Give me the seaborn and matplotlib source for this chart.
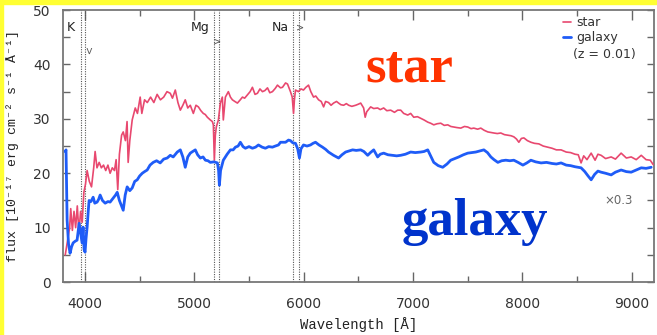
import numpy as np
import pandas as pd
import seaborn as sns
import matplotlib.pyplot as plt
from matplotlib.patches import Rectangle
from matplotlib.ticker import MultipleLocator

# star spectrum
star_wl = [3820, 3840, 3860, 3870, 3885, 3900, 3915, 3930, 3945, 3960, 3975, 3990, 4005, 4020,
           4040, 4060, 4080, 4093, 4110, 4130, 4150, 4170, 4190, 4210, 4230, 4250, 4270, 4285,
           4300, 4315, 4335, 4350, 4370, 4385, 4395, 4410, 4432, 4460, 4480, 4505, 4520, 4545,
           4570, 4600, 4630, 4660, 4690, 4720, 4750, 4780, 4800, 4826, 4850, 4872, 4895, 4917,
           4940, 4963, 4991, 5015, 5037, 5060, 5082, 5100, 5119, 5146, 5165, 5174, 5183, 5192,
           5201, 5220, 5238, 5256, 5265, 5284, 5311, 5330, 5348, 5370, 5394, 5420, 5440, 5460,
           5485, 5510, 5531, 5555, 5577, 5600, 5623, 5645, 5669, 5690, 5714, 5740, 5760, 5788,
           5806, 5834, 5852, 5879, 5895, 5907, 5915, 5925, 5952, 5975, 5998, 6020, 6044, 6065,
           6090, 6110, 6136, 6160, 6182, 6200, 6227, 6250, 6273, 6300, 6319, 6340, 6365, 6390,
           6411, 6440, 6475, 6500, 6521, 6548, 6562, 6576, 6612, 6640, 6676, 6700, 6731, 6760,
           6795, 6830, 6859, 6887, 6914, 6951, 6978, 7006, 7040, 7070, 7100, 7134, 7160, 7189,
           7220, 7253, 7285, 7317, 7345, 7372, 7400, 7436, 7470, 7500, 7530, 7555, 7590, 7619,
           7650, 7683, 7710, 7738, 7770, 7802, 7835, 7866, 7895, 7921, 7945, 7967, 7990, 8013,
           8045, 8077, 8110, 8150, 8190, 8230, 8270, 8310, 8353, 8400, 8440, 8480, 8510, 8536,
           8560, 8590, 8628, 8664, 8690, 8719, 8760, 8811, 8850, 8902, 8950, 8994, 9040, 9086,
           9130, 9168, 9195]
star_flux = [5.0, 7.5, 10, 13.5, 9.5, 13, 10, 14, 9, 13, 11, 16.5, 18, 20.5,
             18.5, 17.5, 21, 24, 21, 22, 21, 21.5, 20.5, 21.5, 20, 21, 20.5, 22.5,
             17, 23.5, 27, 27.6, 26, 29.5, 22, 26, 29.8, 32, 31, 34, 31, 33.5,
             33, 34, 33, 34.5, 33.5, 34, 35, 34.7, 33.8, 35.3, 33, 31.6, 32.5, 33.5,
             32, 32.5, 31, 32.5, 32.2, 31.5, 31, 30.8, 30.3, 29.8, 29.5, 28.9, 22.4, 27,
             28.5, 29.8, 32.9, 34, 29.8, 34, 35, 34, 33.5, 33.2, 32.9, 33.5, 34, 33.8,
             34.4, 35, 35.8, 34.5, 34.7, 35.5, 35, 35.2, 35.7, 34.8, 35, 35.6, 36.2, 35.7,
             35.8, 36.6, 36.4, 35, 34, 31, 33.5, 35.3, 35, 35.5, 35.3, 35.8, 36.2, 35,
             34, 34.2, 33.5, 33.2, 32.2, 33.2, 33, 32.5, 32.9, 33.2, 32.9, 32.6, 32.5, 32.8,
             32.5, 32.3, 32.5, 32.7, 32.9, 32, 30.3, 31.3, 32.2, 31.9, 32, 31.7, 32, 31.5,
             31.6, 31.2, 31.6, 31.6, 31, 30.7, 31, 30.3, 30.4, 30.1, 29.8, 29.4, 29.2, 28.9,
             29.1, 29.2, 28.8, 28.9, 28.6, 28.5, 28.4, 28.3, 28.6, 28.5, 28.2, 28.3, 28.1, 28.3,
             27.9, 27.6, 27.5, 27.4, 27.3, 27.4, 27.1, 27, 26.9, 26.7, 26.3, 25.7, 26.4, 26.5,
             26, 25.7, 25.5, 25.4, 25, 24.8, 24.6, 24.3, 24.3, 23.9, 23.8, 23.5, 23.4, 21.9,
             23.2, 22.5, 23.7, 22.4, 23.5, 23.3, 22.7, 23, 22.6, 23.7, 22.8, 23, 22.5, 23.3,
             22.5, 22.4, 21.6]

# galaxy spectrum (x0.3, z = 0.01)
gal_wl = [3820, 3827, 3832, 3837, 3850, 3864, 3878, 3892, 3910, 3928, 3947, 3960, 3974, 3983,
          3992, 4001, 4010, 4020, 4030, 4038, 4055, 4075, 4090, 4111, 4125, 4139, 4160, 4185,
          4210, 4230, 4260, 4280, 4295, 4315, 4335, 4350, 4368, 4386, 4410, 4432, 4455, 4478,
          4500, 4524, 4545, 4569, 4595, 4624, 4655, 4688, 4720, 4752, 4780, 4807, 4844, 4872,
          4895, 4917, 4940, 4963, 4985, 5009, 5030, 5055, 5080, 5101, 5125, 5146, 5180, 5211,
          5222, 5229, 5240, 5265, 5300, 5330, 5355, 5376, 5400, 5421, 5445, 5467, 5500, 5531,
          5560, 5586, 5620, 5650, 5680, 5714, 5740, 5769, 5788, 5834, 5861, 5879, 5900, 5925,
          5945, 5961, 5975, 5998, 6030, 6062, 6085, 6108, 6140, 6172, 6200, 6227, 6250, 6273,
          6300, 6319, 6350, 6383, 6415, 6447, 6480, 6521, 6550, 6585, 6610, 6640, 6660, 6676,
          6700, 6731, 6770, 6814, 6850, 6887, 6930, 6978, 7020, 7070, 7100, 7134, 7160, 7189,
          7230, 7271, 7310, 7344, 7380, 7418, 7460, 7500, 7540, 7573, 7610, 7647, 7680, 7711,
          7740, 7775, 7810, 7848, 7885, 7921, 7960, 8004, 8040, 8077, 8120, 8170, 8220, 8270,
          8310, 8353, 8400, 8440, 8480, 8536, 8570, 8600, 8628, 8660, 8690, 8719, 8760, 8811,
          8850, 8902, 8950, 8994, 9040, 9086, 9130, 9177]
gal_flux = [24, 24.3, 18, 11.4, 7, 5.3, 6.5, 7.2, 7.5, 7.7, 10.8, 9, 7.2, 10.1,
            6, 5.5, 8, 10.1, 13, 15, 14.8, 15.6, 14.5, 14.7, 15.2, 16, 15, 14.5,
            14.8, 14.7, 15.5, 16, 16.5, 15, 14, 13.2, 16, 17.5, 16.8, 17.3, 18.5, 18.8,
            19.5, 20, 20.3, 20.6, 21.5, 22, 22.3, 21.9, 22.6, 22.8, 23.3, 23, 23.9, 24.3,
            23, 21.1, 23, 23.7, 24, 24.3, 23.4, 22.8, 23, 22.4, 22.3, 22, 22.1, 21.9,
            20.5, 17.8, 20.5, 22.4, 23.5, 24.3, 24.3, 24.8, 25, 25.7, 24.9, 24.6, 24.9, 24.6,
            24.8, 25.2, 24.8, 24.6, 24.9, 24.8, 25, 25.2, 25.7, 25.7, 26.1, 26, 25.6, 25.5,
            24.5, 22.8, 24.5, 25.2, 25, 25.2, 25.5, 25.7, 25.2, 24.8, 24.4, 23.9, 23.6, 23.3,
            23, 22.8, 23.4, 23.9, 24.1, 24.3, 24.2, 24.3, 24, 23.3, 23.8, 24.3, 23.6, 23,
            23.5, 23.7, 23.4, 23.3, 23.2, 23.3, 23.5, 23.9, 23.8, 23.9, 24, 24.3, 23.2, 22,
            21.4, 21.1, 21.7, 22.4, 22.7, 23, 23.4, 23.7, 23.8, 23.9, 24.1, 24.3, 23.8, 23,
            22.5, 22, 22.3, 22.4, 22.3, 22.4, 22, 21.5, 21.9, 22.4, 22.1, 21.9, 22, 21.8,
            21.7, 21.9, 21.5, 21.4, 21.2, 21, 20.3, 19.5, 18.8, 19.8, 20.4, 20.2, 20, 19.7,
            20.2, 20.6, 20.3, 20.2, 20.6, 21, 20.9, 21.1]

# absorption line markers (rest and redshifted)
line_names = ["K", "Mg", "Na"]
line_pos = [[3968, 4005], [5180, 5230], [5905, 5955]]

sns.set_style("ticks")
plt.rcParams['font.family'] = ['DejaVu Sans']

fig = plt.figure(figsize=(6.57, 3.35), dpi=100)
ax = fig.add_axes([0.096, 0.158, 0.899, 0.812])

for pair in line_pos:
    for p in pair:
        ax.axvline(p, color="#555555", ls=(0, (1, 1.2)), lw=0.8, zorder=1)

star_df = pd.DataFrame({"wl": star_wl, "flux": star_flux})
gal_df = pd.DataFrame({"wl": gal_wl, "flux": gal_flux})
sns.lineplot(data=star_df, x="wl", y="flux", ax=ax, color="#e8486f", lw=1.2, label="star", zorder=3)
sns.lineplot(data=gal_df, x="wl", y="flux", ax=ax, color="#1f5cf7", lw=2.0, label="galaxy", zorder=4)

ax.set_xlim(3800, 9200)
ax.set_ylim(0, 50)
ax.xaxis.set_major_locator(MultipleLocator(1000))
ax.xaxis.set_minor_locator(MultipleLocator(500))
ax.yaxis.set_major_locator(MultipleLocator(10))
ax.yaxis.set_minor_locator(MultipleLocator(5))
ax.tick_params(which="both", direction="in", top=True, right=True, color="#666666",
               labelcolor="#333333", labelsize=10, width=1)
ax.tick_params(which="major", length=7, pad=11)
ax.tick_params(which="minor", length=4)
ax.tick_params(axis="y", which="both", length=5, pad=9)
for s in ax.spines.values():
    s.set_color("#777777")
    s.set_linewidth(1.3)

ax.set_xlabel("Wavelength [Å]", family=["Liberation Mono", "DejaVu Sans Mono"],
              fontsize=10, color="#222222", labelpad=4)
ax.set_ylabel("flux [10⁻¹⁷ erg cm⁻² s⁻¹ Å⁻¹]", family=["Liberation Mono", "DejaVu Sans Mono"],
              fontsize=9.5, color="#222222", labelpad=10)

leg = ax.legend(loc="upper right", frameon=False, handlelength=0.7, handletextpad=0.4,
                fontsize=9, labelspacing=0.15, bbox_to_anchor=(0.948, 0.995), borderaxespad=0)
for t in leg.get_texts():
    t.set_color("#333333")
ax.text(0.863, 0.835, "(z = 0.01)", transform=ax.transAxes, fontsize=9, color="#333333",
        ha="left", va="center")

# line labels
ax.text(3830, 46.8, line_names[0], fontsize=9, color="#222222", ha="left", va="center")
ax.text(4020, 42.5, ">", fontsize=7, color="#555555", ha="center", va="center", rotation=-90)
ax.text(5055, 46.8, line_names[1], fontsize=9, color="#222222", ha="center", va="center")
ax.text(5210, 44.3, ">", fontsize=7, color="#555555", ha="center", va="center")
ax.text(5790, 46.8, line_names[2], fontsize=9, color="#222222", ha="center", va="center")
ax.text(5965, 46.8, ">", fontsize=7, color="#555555", ha="center", va="center")

ax.text(0.965, 0.30, "×0.3", transform=ax.transAxes, fontsize=8.5, color="#666666",
        ha="right", va="center")

# big overlay labels
fig.text(365 / 657, 1 - 82 / 335, "star", family="Liberation Serif", weight="bold",
         fontsize=38, color="#ff3300", ha="left", va="baseline")
fig.text(402 / 657, 1 - 235 / 335, "galaxy", family="Liberation Serif", weight="bold",
         fontsize=38, color="#0033cc", ha="left", va="baseline")

# yellow frame edges of the original image
fig.patches.append(Rectangle((0, 1 - 4 / 335), 1, 4 / 335, transform=fig.transFigure,
                             color="#ffff33", zorder=10))
fig.patches.append(Rectangle((0, 0), 3 / 657, 1, transform=fig.transFigure,
                             color="#ffff33", zorder=10))

fig.savefig("out.png", dpi=100)
